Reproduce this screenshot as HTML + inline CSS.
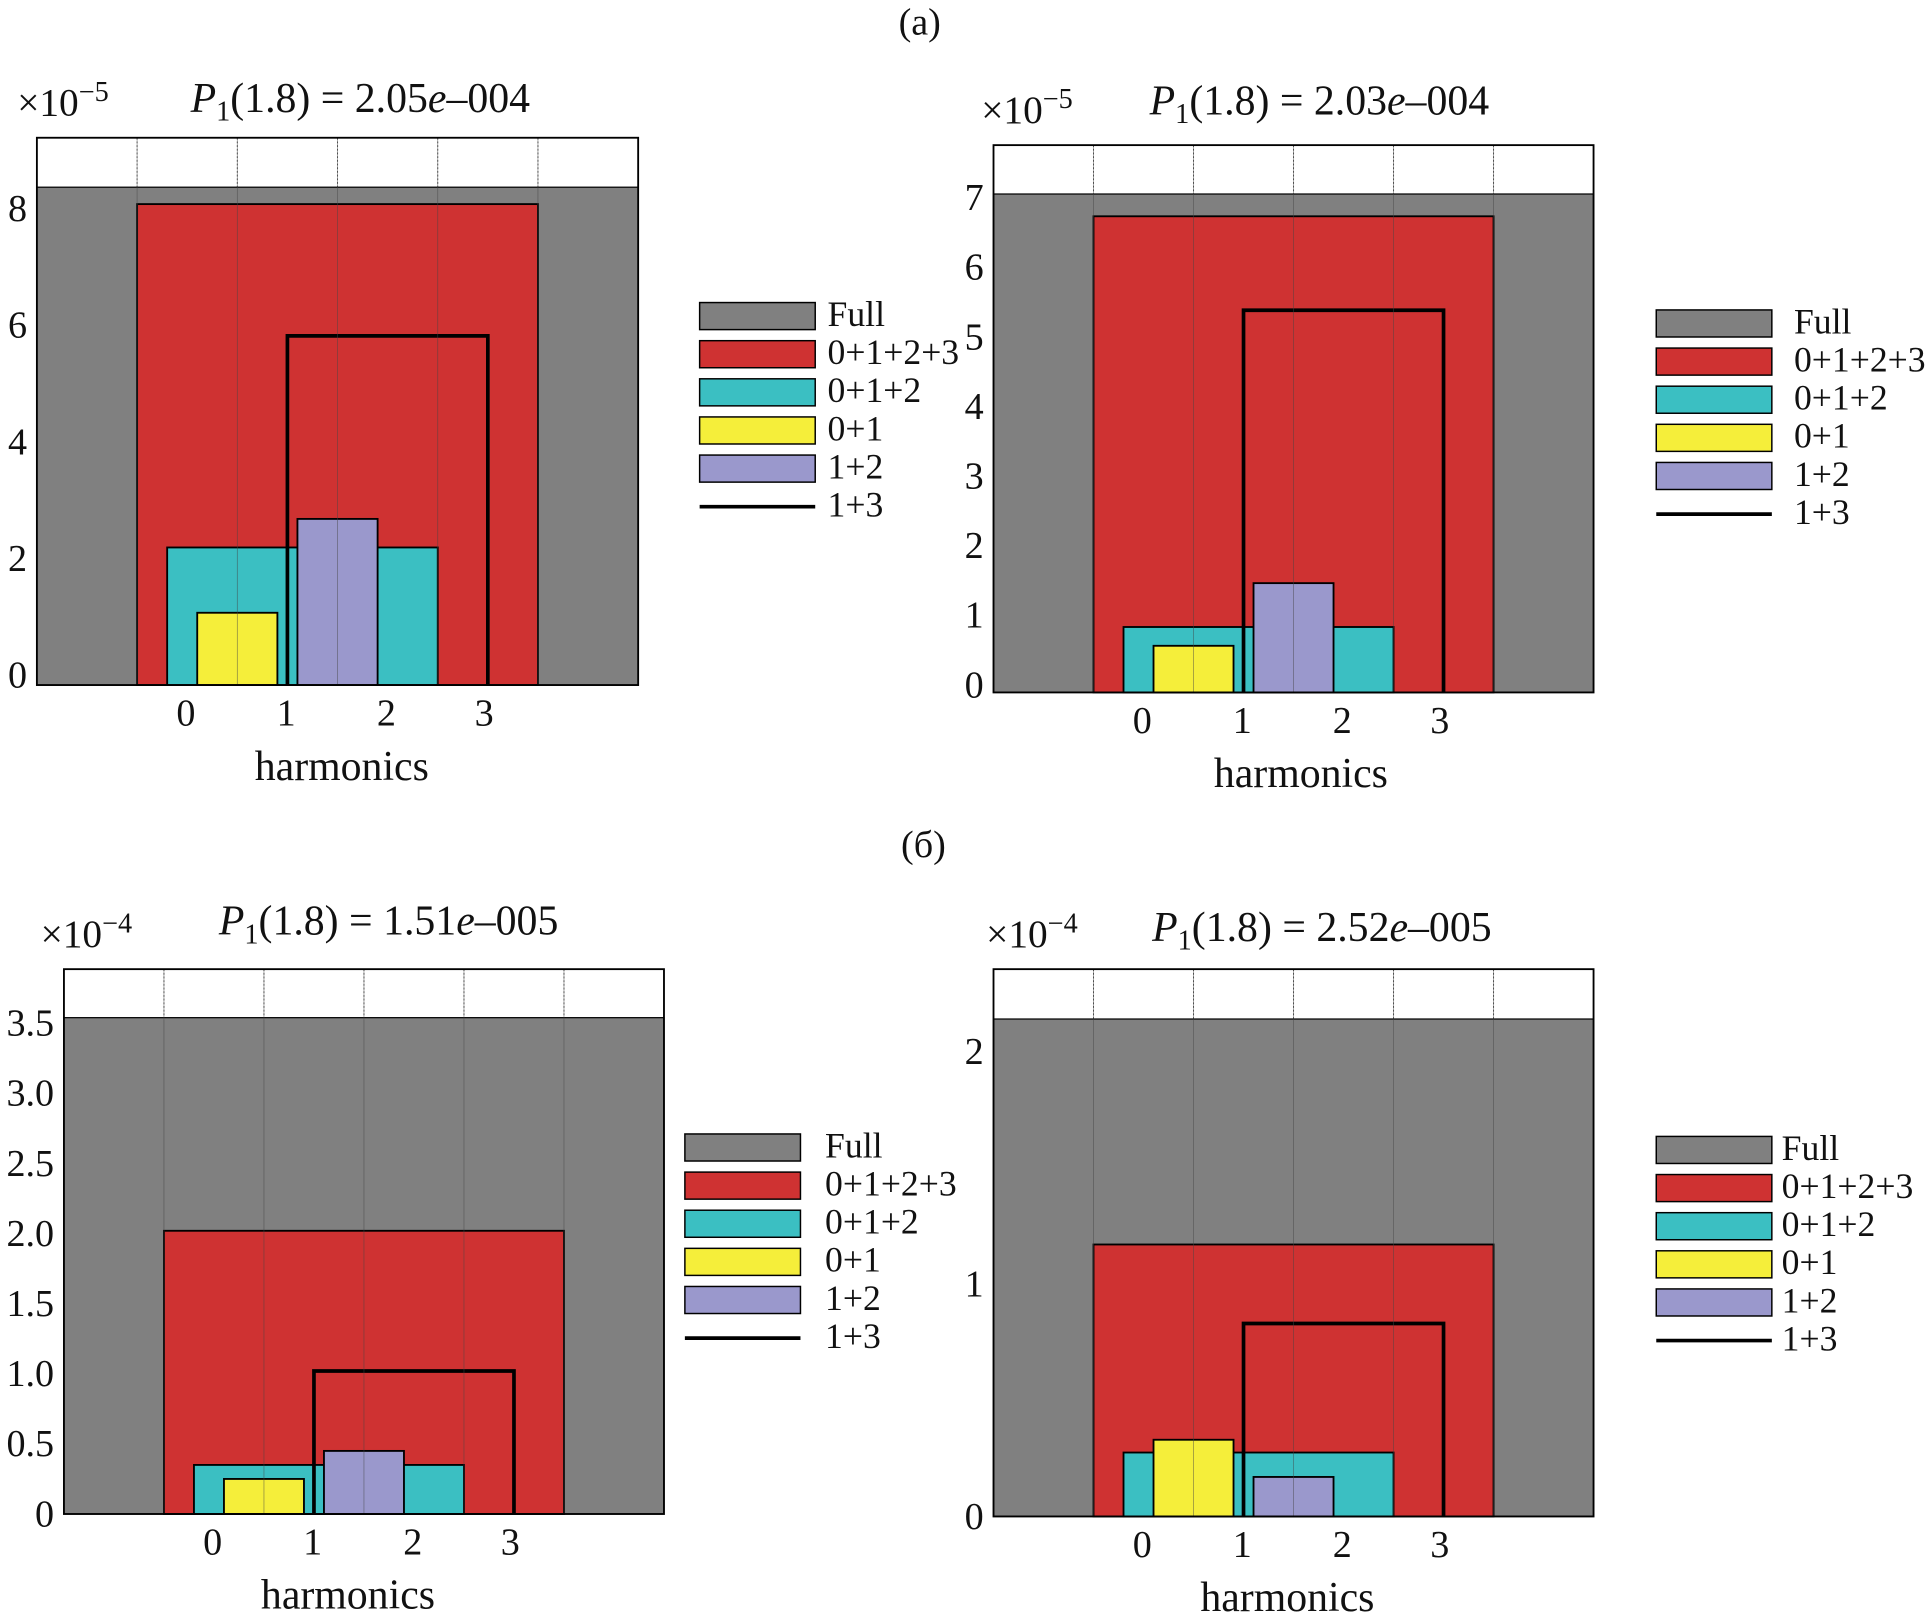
<!DOCTYPE html>
<html><head><meta charset="utf-8"><style>
html,body{margin:0;padding:0;background:#fff;}
svg{display:block;}
text{font-family:"Liberation Serif",serif;fill:#111;}
</style></head><body>
<svg id="fig" width="1928" height="1621" viewBox="0 0 1568 1318" preserveAspectRatio="none" xmlns="http://www.w3.org/2000/svg">
<text x="748" y="28" font-size="31" text-anchor="middle">(a)</text>
<text x="751" y="697" font-size="31" text-anchor="middle">(б)</text>
</svg>
<script>
// series names
const seriesNames = ["Full","0+1+2+3","0+1+2","0+1","1+2","1+3"];
const seriesColors = ["#808080","#cf3232","#3bbfc2","#f5ee3a","#9a98cc","none"];
// bar x-extents (harmonic units)
const barX0 = [-1.5,-0.5,-0.2,0.1,1.1,1.0];
const barX1 = [4.5,3.5,2.5,0.9,1.9,3.0];
// values per panel
const valuesA1 = [8.54,8.25,2.36,1.24,2.85,5.99];
const valuesA2 = [7.16,6.84,0.94,0.67,1.57,5.49];
const valuesB1 = [3.54,2.02,0.35,0.25,0.45,1.02];
const valuesB2 = [2.14,1.17,0.275,0.33,0.17,0.83];
// tick labels
const ticksA1 = [0,2,4,6,8];
const ticksA2 = [0,1,2,3,4,5,6,7];
const ticksB1 = [0,0.5,1.0,1.5,2.0,2.5,3.0,3.5];
const ticksB2 = [0,1,2];
const xTicks = [0,1,2,3];
const titles = ["2.05e\u2013004","2.03e\u2013004","1.51e\u2013005","2.52e\u2013005"];

const NS="http://www.w3.org/2000/svg";
const svg=document.getElementById('fig');
function mk(tag,attrs,parent){const e=document.createElementNS(NS,tag);for(const k in attrs)e.setAttribute(k,attrs[k]);(parent||svg).appendChild(e);return e;}

function panel(id,box,vals,ticks,yPerUnit,labelOff,dec,expo,title,expX,titleX,titleY,legX,legY,legStep,legTextX,hx){
  const g=mk('g',{});
  
  
  const [L,T,R,B]=box;
  const xs=v=>L+(v+1.5)/6*(R-L);
  const ys=v=>B-v*yPerUnit;
  for(let i=0;i<5;i++){const gx=xs(-0.5+i);const ln=mk('line',{x1:gx,x2:gx,y1:T,y2:B,stroke:'#555','stroke-width':0.8,'stroke-dasharray':'1.5,1.5'},g);}
  for(let s=0;s<6;s++){
    const x0=xs(barX0[s]),x1=xs(barX1[s]),y=ys(vals[s]);
    if(s===5){const p=mk('polyline',{points:`${x0},${B} ${x0},${y} ${x1},${y} ${x1},${B}`,fill:'none',stroke:'#000','stroke-width':3},g);}
    else{const r=mk('rect',{x:x0,y:y,width:x1-x0,height:B-y,fill:seriesColors[s],stroke:'#000','stroke-width':s===0?1:1.5},g);}
  }
  for(let i=0;i<5;i++){const gx=xs(-0.5+i);mk('line',{x1:gx,x2:gx,y1:T,y2:B,stroke:'#444','stroke-width':0.6,'stroke-opacity':0.6},g);}
  const fr=mk('rect',{x:L,y:T,width:R-L,height:B-T,fill:'none',stroke:'#000','stroke-width':1.5},g);
  
  ticks.forEach(t=>{const tx=mk('text',{x:L-8,y:ys(t)+labelOff,'font-size':31,'text-anchor':'end'},g);tx.textContent=(dec&&t!==0)?t.toFixed(1):String(t);});
  xTicks.forEach(t=>{const tx=mk('text',{x:xs(t)+(t===3?-2:0)-1,y:B+33,'font-size':31,'text-anchor':'middle'},g);tx.textContent=String(t);});
  const xt=mk('text',{x:hx,y:B+77,'font-size':34,'text-anchor':'middle'},g);xt.textContent='harmonics';
  
  const ex=mk('text',{x:expX,y:T-18,'font-size':32},g);
  
  ex.innerHTML='\u00d710<tspan dy="-12" font-size="23">\u2212'+expo+'</tspan>';
  const ti=mk('text',{x:titleX,y:titleY,'font-size':34},g);
  
  ti.innerHTML='<tspan font-style="italic">P</tspan><tspan dy="7" font-size="23">1</tspan><tspan dy="-7">(1.8) = '+title.split('e')[0]+'</tspan><tspan font-style="italic">e</tspan><tspan>'+title.split('e')[1]+'</tspan>';
  for(let s=0;s<6;s++){
    const y=legY+s*legStep;
    if(s===5){const l=mk('line',{x1:legX,x2:legX+94,y1:y,y2:y,stroke:'#000','stroke-width':3},g);}
    else{const r=mk('rect',{x:legX,y:y-11,width:94,height:22,fill:seriesColors[s],stroke:'#000','stroke-width':1.2},g);}
    const tx=mk('text',{x:legTextX,y:y+8,'font-size':29},g);tx.textContent=seriesNames[s];
    
  }
}
panel('panel-a-left',[30,112,519,557],valuesA1,ticksA1,47.4,2,false,5,titles[0],14,155,91,569,257,31,673,278);
panel('panel-a-right',[808,118,1296,563],valuesA2,ticksA2,56.6,4,false,5,titles[1],798,935,93,1347,263,31,1459,1058);
panel('panel-b-left',[52,788,540,1231],valuesB1,ticksB1,114,10,true,4,titles[2],33,178,760,557,933,31,671,283);
panel('panel-b-right',[808,788,1296,1233],valuesB2,ticksB2,189,10,false,4,titles[3],802,937,765,1347,935,31,1449,1047);
</script>
</body></html>
